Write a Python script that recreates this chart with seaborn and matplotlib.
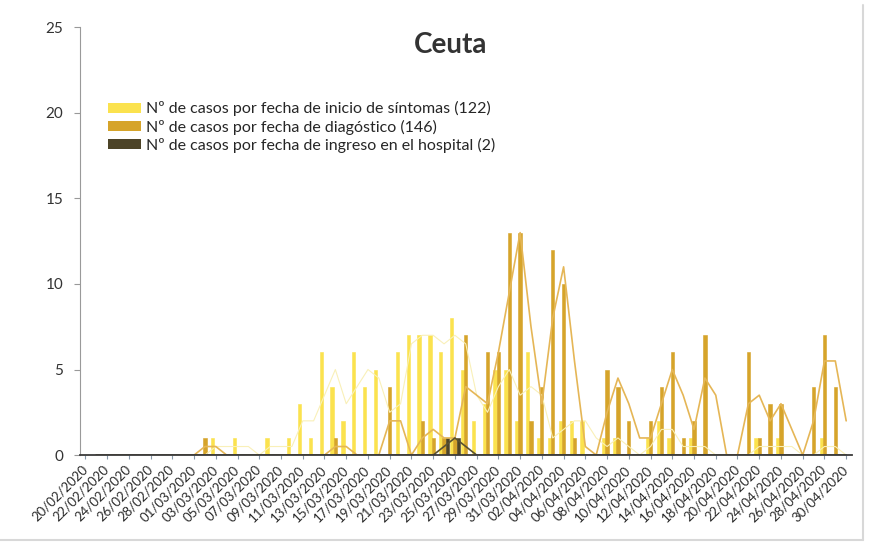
import numpy as np
import pandas as pd
import matplotlib
matplotlib.use("Agg")
import matplotlib.pyplot as plt
import seaborn as sns
from matplotlib.patches import Patch

# daily dates 20/02/2020 - 30/04/2020
fechas = pd.date_range("2020-02-20", "2020-04-30", freq="D").strftime("%d/%m/%Y").tolist()

# cases by date of symptom onset
sintomas = [0, 0, 0, 0, 0, 0, 0, 0, 0, 0,
            0, 0, 1, 0, 1, 0, 0, 1, 0, 1,
            3, 1, 6, 4, 2, 6, 4, 5, 0, 6,
            7, 7, 7, 6, 8, 5, 2, 3, 5, 5,
            2, 6, 1, 1, 2, 2, 2, 0, 1, 1,
            0, 0, 1, 2, 1, 0, 1, 0, 0, 0,
            0, 0, 1, 0, 1, 0, 0, 0, 1, 0,
            0]
# cases by date of diagnosis
diagnostico = [0, 0, 0, 0, 0, 0, 0, 0, 0, 0,
               0, 1, 0, 0, 0, 0, 0, 0, 0, 0,
               0, 0, 0, 1, 0, 0, 0, 0, 4, 0,
               0, 2, 1, 1, 1, 7, 0, 6, 6, 13,
               13, 2, 4, 12, 10, 1, 0, 0, 5, 4,
               2, 0, 2, 4, 6, 1, 2, 7, 0, 0,
               0, 6, 1, 3, 3, 0, 0, 4, 7, 4,
               0]
# cases by date of hospital admission
ingreso = [0] * 33 + [1, 1] + [0] * 36

series = ["Nº de casos por fecha de inicio de síntomas (122)",
          "Nº de casos por fecha de diagóstico (146)",
          "Nº de casos por fecha de ingreso en el hospital (2)"]
bar_colors = ["#FBE24E", "#D6A42A", "#4D4428"]
line_colors = ["#F9F0B8", "#E5B656", "#5A5232"]
line_widths = [0.8, 1.2, 1.2]

df = pd.DataFrame({
    "fecha": fechas * 3,
    "serie": [series[0]] * len(fechas) + [series[1]] * len(fechas) + [series[2]] * len(fechas),
    "casos": sintomas + diagnostico + ingreso,
})

sns.set_style("white")
plt.rcParams["font.family"] = ["Lato", "DejaVu Sans"]

fig = plt.figure(figsize=(8.69, 5.45), dpi=100)
ax = fig.add_axes([0.092, 0.165, 0.888, 0.785])

sns.barplot(data=df, x="fecha", y="casos", hue="serie", palette=bar_colors,
            width=0.9, saturation=1, errorbar=None, ax=ax, legend=False)
# thicken the thin bars a little, like the original
for p in ax.patches:
    p.set_edgecolor(p.get_facecolor())
    p.set_linewidth(0.4)

# 2-period moving averages as thin lines
x_idx = np.arange(len(fechas))
for vals, c, lw in zip([sintomas, diagnostico, ingreso], line_colors, line_widths):
    ma = pd.Series(vals).rolling(2).mean()
    sns.lineplot(x=x_idx[1:], y=ma.values[1:], color=c, lw=lw, ax=ax, legend=False)

ax.set_xlim(-0.5, len(fechas) - 0.5)
ax.set_ylim(0, 25)
ax.set_yticks([0, 5, 10, 15, 20, 25])
ax.set_xticks(x_idx[::2])
ax.set_xticklabels(fechas[::2], rotation=45, ha="right", va="center",
                   rotation_mode="anchor", fontsize=9.5, color="#2a2a2a")
ax.tick_params(axis="y", labelsize=11, colors="#333333", length=4, direction="out",
               left=True, pad=8, color="#999999")
ax.tick_params(axis="x", length=3, bottom=True, color="#8899aa", pad=6)
ax.set_xlabel("")
ax.set_ylabel("")

for s in ["top", "right"]:
    ax.spines[s].set_visible(False)
ax.spines["left"].set_color("#9a9a9a")
ax.spines["bottom"].set_color("#3a3a3a")
ax.spines["bottom"].set_linewidth(1.3)

ax.text(0.48, 0.958, "Ceuta", transform=ax.transAxes, ha="center", va="center",
        fontsize=20, fontweight="bold", color="#333333")

handles = [Patch(facecolor=c, edgecolor="none") for c in bar_colors]
ax.legend(handles, series, loc="upper left", bbox_to_anchor=(0.036, 0.827),
          frameon=False, fontsize=11.5, handlelength=2.1, handleheight=0.6,
          handletextpad=0.3, labelspacing=0.2, borderpad=0, borderaxespad=0)

# light scan border on the right/bottom
fig.add_artist(plt.Line2D([0.993, 0.993], [0.01, 0.99], color="#d8d8d8", lw=1.5))
fig.add_artist(plt.Line2D([0.0, 0.993], [0.01, 0.01], color="#d8d8d8", lw=1.5))

fig.savefig("out.png", dpi=100)
